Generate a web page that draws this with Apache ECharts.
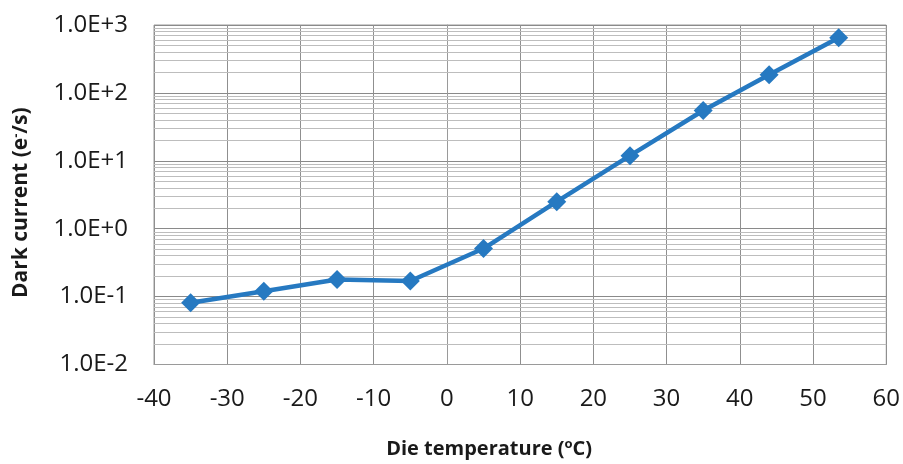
<!DOCTYPE html>
<html>
<head>
<meta charset="utf-8">
<script src="https://cdn.jsdelivr.net/npm/echarts@6/dist/echarts.min.js"></script>
<style>
html,body{margin:0;padding:0;background:#fff;}
#chart{width:903px;height:464px;}
</style>
</head>
<body>
<div id="chart"></div>
<script>
// Data
const temperatures = [-35, -25, -15, -5, 5, 15, 25, 35, 44, 53.5];
const darkCurrent  = [0.081, 0.12, 0.178, 0.17, 0.51, 2.5, 11.9, 55, 185, 650];
const xTicks = { min: -40, max: 60, interval: 10 };
const yRange = { min: 0.01, max: 1000 };
const minorMultipliers = [2, 3, 4, 5, 6, 7, 8, 9];

const FONT = '"Open Sans", "Noto Sans", sans-serif';
const BLUE = '#2679c1';

// minor log gridline positions (axis values)
const minorLines = [];
for (let e = -2; e < 3; e++) {
  for (const m of minorMultipliers) minorLines.push({ yAxis: m * Math.pow(10, e) });
}

const chart = echarts.init(document.getElementById('chart'), null, { renderer: 'canvas' });
chart.setOption({
  animation: false,
  backgroundColor: '#ffffff',
  grid: { left: 154, right: 16, top: 25, bottom: 98, show: true, borderColor: '#9a9a9a', borderWidth: 1, containLabel: false },
  xAxis: {
    type: 'value', min: xTicks.min, max: xTicks.max, interval: xTicks.interval,
    axisLine: { show: true, lineStyle: { color: '#9a9a9a', width: 1 } },
    axisTick: { show: false },
    axisLabel: { color: '#1a1a1a', fontFamily: FONT, fontSize: 24, margin: 23 },
    splitLine: { show: true, lineStyle: { color: '#8f8f8f', width: 1 } },
    name: 'Die temperature ({s|o}C)',
    nameLocation: 'middle', nameGap: 73,
    nameTextStyle: {
      color: '#1a1a1a', fontFamily: FONT, fontSize: 20, fontWeight: 'bold', padding: [0, 62, 0, 0],
      rich: { s: { fontFamily: FONT, fontSize: 13, fontWeight: 'bold', color: '#1a1a1a', verticalAlign: 'top', padding: [0, 0, 10, 0] } }
    }
  },
  yAxis: {
    type: 'log', logBase: 10, min: yRange.min, max: yRange.max, interval: 1,
    axisLine: { show: true, lineStyle: { color: '#9a9a9a', width: 1 } },
    axisTick: { show: false },
    axisLabel: {
      color: '#1a1a1a', fontFamily: FONT, fontSize: 24, margin: 26,
      formatter: v => Number(v).toExponential(1).toUpperCase()
    },
    splitLine: { show: true, lineStyle: { color: '#8a8a8a', width: 1 } },
    name: 'Dark current (e{s|-}/s)',
    nameLocation: 'middle', nameGap: 121, nameRotate: 90,
    nameTextStyle: {
      color: '#1a1a1a', fontFamily: FONT, fontSize: 21, fontWeight: 'bold', padding: [0, 16, 0, 0],
      rich: { s: { fontFamily: FONT, fontSize: 13, fontWeight: 'bold', color: '#1a1a1a', verticalAlign: 'top', padding: [0, 0, 10, 0] } }
    }
  },
  series: [
    {
      type: 'line', data: [], z: 1, silent: true,
      markLine: {
        silent: true, symbol: 'none', animation: false, z: 1,
        label: { show: false },
        lineStyle: { color: '#bdbdbd', width: 1, type: 'solid' },
        data: minorLines
      }
    },
    {
      type: 'line', z: 3,
      data: temperatures.map((t, i) => [t, darkCurrent[i]]),
      symbol: 'diamond', symbolSize: 19,
      lineStyle: { color: BLUE, width: 4.5 },
      itemStyle: { color: BLUE },
      smooth: false
    }
  ]
});
</script>
</body>
</html>
